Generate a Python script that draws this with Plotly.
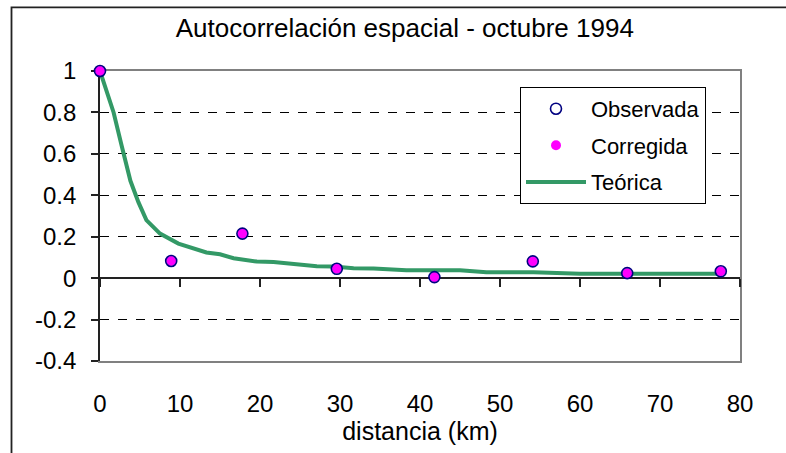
import plotly.graph_objects as go

# ---- data ----
dist_obs = [0, 8.9, 17.8, 29.6, 41.8, 54.1, 65.9, 77.6]
r_observada = [1.0, 0.083, 0.215, 0.045, 0.005, 0.081, 0.024, 0.033]
r_corregida = [1.0, 0.083, 0.215, 0.045, 0.005, 0.081, 0.024, 0.033]

dist_teo = [0, 0.8, 1.7, 2.7, 3.8, 4.8, 5.8, 7.5, 9.8, 13.3, 15, 16.7, 19.6,
            21.7, 24.2, 25.8, 27.1, 29.2, 31.7, 34.2, 38.3, 45, 48.3, 54.2, 60, 77.5]
r_teorica = [1.0, 0.90, 0.80, 0.64, 0.47, 0.367, 0.28, 0.215, 0.167, 0.124, 0.115,
             0.096, 0.080, 0.078, 0.069, 0.065, 0.058, 0.056, 0.048, 0.046, 0.038,
             0.038, 0.029, 0.029, 0.021, 0.021]

x_ticks = [0, 10, 20, 30, 40, 50, 60, 70, 80]
y_ticks = [-0.4, -0.2, 0, 0.2, 0.4, 0.6, 0.8, 1]
y_ticktext = ["-0.4", "-0.2", "0", "0.2", "0.4", "0.6", "0.8", "1"]

FONT = "Liberation Sans, Arial, sans-serif"

fig = go.Figure()
fig.add_trace(go.Scatter(
    x=dist_teo, y=r_teorica, mode="lines", name="Teórica",
    line=dict(color="#339966", width=4), legendrank=3, legendgroup="c",
    cliponaxis=False))
fig.add_trace(go.Scatter(
    x=dist_obs, y=r_corregida, mode="markers", name="Corregida",
    marker=dict(color="#FF00FF", size=10, line=dict(width=0)),
    legendrank=2, legendgroup="b", cliponaxis=False))
fig.add_trace(go.Scatter(
    x=dist_obs, y=r_observada, mode="markers", name="Observada",
    marker=dict(symbol="circle-open", color="#000080", size=11,
                line=dict(width=1.6, color="#000080")),
    legendrank=1, legendgroup="a", cliponaxis=False))

fig.update_layout(
    width=786, height=453,
    margin=dict(l=100, r=46, t=71, b=90),
    paper_bgcolor="white", plot_bgcolor="white",
    font=dict(family=FONT, size=24, color="black"),
    title=dict(text="Autocorrelación espacial - octubre 1994",
               x=0.515, xanchor="center", xref="container",
               y=1 - 28 / 453, yanchor="middle", yref="container",
               font=dict(size=26, family=FONT, color="black")),
    showlegend=True,
    legend=dict(x=(520 - 100) / 640, y=(363 - 87) / 292, xanchor="left", yanchor="top",
                bordercolor="black", borderwidth=1, bgcolor="white",
                font=dict(size=22, family=FONT, color="black"),
                tracegroupgap=5, itemwidth=60, traceorder="grouped"),
    xaxis=dict(range=[0, 80], tickvals=x_ticks, ticks="", showgrid=False,
               showline=True, mirror=True, linecolor="#808080", linewidth=1.5,
               zeroline=False, ticklabelstandoff=20, layer="below traces",
               title=dict(text="distancia (km)", standoff=7,
                          font=dict(size=25, family=FONT))),
    xaxis2=dict(range=[0, 80], tickvals=x_ticks, overlaying="x", anchor="free",
                position=0.4 / 1.4, side="bottom", showticklabels=False,
                ticks="outside", ticklen=8, tickwidth=1.5, tickcolor="#222",
                showline=False, showgrid=False, zeroline=False, layer="below traces"),
    yaxis=dict(range=[-0.4, 1], tickvals=y_ticks, ticktext=y_ticktext,
               ticks="outside", ticklen=7, tickwidth=1.5, tickcolor="#222",
               showline=True, linecolor="#222", linewidth=1.8,
               showgrid=True, gridcolor="black", gridwidth=1, griddash="dash",
               zeroline=True, zerolinecolor="#222", zerolinewidth=1.8,
               ticklabelstandoff=10, layer="below traces"),
    yaxis2=dict(range=[-0.4, 1], overlaying="y", side="right", anchor="x",
                showline=True, linecolor="#808080", linewidth=2,
                showticklabels=False, ticks="", showgrid=False, zeroline=False,
                layer="below traces"),
)

# second axes need a (hidden) trace to exist
fig.add_trace(go.Scatter(x=[None], y=[None], xaxis="x2", yaxis="y2",
                         showlegend=False, hoverinfo="skip"))

# outer chart frame
fig.add_shape(type="rect", xref="paper", yref="paper",
              x0=(11.5 - 100) / 640, x1=(830 - 100) / 640,
              y0=(363 - 500) / 292, y1=(363 - 7) / 292,
              line=dict(color="#222", width=1.8), fillcolor="rgba(0,0,0,0)")

fig.write_html("out.html",
               config={"displayModeBar": False},
               post_script="document.body.style.margin='0';"
                           "document.body.style.overflow='hidden';")
